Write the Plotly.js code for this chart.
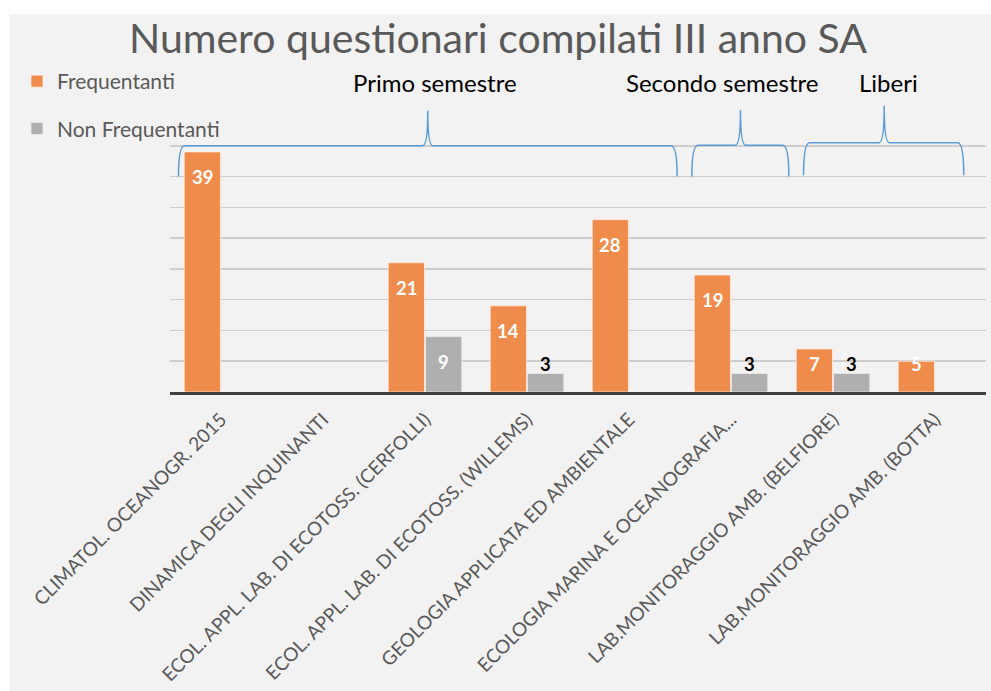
<!DOCTYPE html>
<html><head><meta charset="utf-8">
<script src="https://cdn.plot.ly/plotly-3.0.1.min.js"></script>
<style>html,body{margin:0;padding:0;background:#fff;} #chart{width:991px;height:691px;}</style>
</head><body><div id="chart"></div>
<script>
// ---- data ----
const categories = [
  "CLIMATOL. OCEANOGR. 2015",
  "DINAMICA DEGLI INQUINANTI",
  "ECOL. APPL. LAB. DI ECOTOSS. (CERFOLLI)",
  "ECOL. APPL. LAB. DI ECOTOSS. (WILLEMS)",
  "GEOLOGIA APPLICATA ED AMBIENTALE",
  "ECOLOGIA MARINA E OCEANOGRAFIA...",
  "LAB.MONITORAGGIO AMB. (BELFIORE)",
  "LAB.MONITORAGGIO AMB. (BOTTA)"
];
const frequentanti    = [39, null, 21, 14, 28, 19, 7, 5];
const nonFrequentanti = [null, null, 9, 3, null, 3, 3, null];
const seriesNames = ["Frequentanti", "Non Frequentanti"];
const groupLabels = ["Primo semestre", "Secondo semestre", "Liberi"];
const chartTitle = "Numero questionari compilati III anno SA";

// ---- layout constants ----
const yMax = 45;
const FONT = "Lato, 'Open Sans', sans-serif";
const ORANGE = "#ef8c4b", GREY = "#afafaf", BLUE = "#5b9bd5";
// brace geometry in category-index units / value units
const braces = [
  {c0: -0.417, c1: 4.472, cm: 2.027, tip: 35.0, h: 40.0, peak: 45.7, lx: 2.098},
  {c0: 4.616,  c1: 5.567, cm: 5.093, tip: 35.0, h: 40.1, peak: 45.8, lx: 4.907},
  {c0: 5.711,  c1: 7.282, cm: 6.502, tip: 35.2, h: 40.5, peak: 46.5, lx: 6.544}
];
const braceLabelValue = 50.3;

const N = categories.length;
const PX = c => (c + 0.5) / N;
const PY = v => v / yMax;
function bracePath(b) {
  const r = 0.06, r2 = 0.05;
  return `M${PX(b.c0)},${PY(b.tip)} Q${PX(b.c0)},${PY(b.h)} ${PX(b.c0 + r)},${PY(b.h)} ` +
         `L${PX(b.cm - r2)},${PY(b.h)} Q${PX(b.cm)},${PY(b.h)} ${PX(b.cm)},${PY(b.peak)} ` +
         `Q${PX(b.cm)},${PY(b.h)} ${PX(b.cm + r2)},${PY(b.h)} ` +
         `L${PX(b.c1 - r)},${PY(b.h)} Q${PX(b.c1)},${PY(b.h)} ${PX(b.c1)},${PY(b.tip)}`;
}

const traces = [
  {type: "bar", name: seriesNames[0], x: categories, y: frequentanti, legendgroup: "a",
   marker: {color: ORANGE, line: {color: "rgba(255,235,220,0.8)", width: 1}}, hoverinfo: "x+y"},
  {type: "bar", name: seriesNames[1], x: categories, y: nonFrequentanti, legendgroup: "b",
   marker: {color: GREY, line: {color: "rgba(235,235,235,0.8)", width: 1}}, hoverinfo: "x+y"}
];

const bargap = 0.268, bargroupgap = 0.03;
const plotW = 816;
const slot = plotW / N * (1 - bargap) / 2;

const annotations = [];
function labelY(v) { return Math.max(v - 4.05, 4.6); }
[frequentanti, nonFrequentanti].forEach((arr, si) => {
  arr.forEach((v, i) => {
    if (v === null) return;
    const ly = labelY(v);
    annotations.push({
      x: i, y: ly, xref: "x", yref: "y", text: String(v), showarrow: false,
      xshift: (si === 0 ? -1 : 1) * slot / 2, yanchor: "middle",
      font: {family: FONT, size: 18.5, weight: 700, color: ly < v ? "#ffffff" : "#000000"}
    });
  });
});
braces.forEach((b, k) => {
  annotations.push({x: PX(b.lx), y: PY(braceLabelValue), xref: "paper", yref: "paper",
    text: groupLabels[k], showarrow: false, xanchor: "center", yanchor: "middle",
    font: {family: FONT, size: 24, color: "#000000"}});
});

const shapes = [
  {type: "rect", xref: "paper", yref: "paper", x0: -0.197, x1: 1.02, y0: -1.1, y1: 1.3646,
   fillcolor: "#f2f2f2", line: {width: 0}, layer: "below"}
].concat(braces.map(b => ({type: "path", xref: "paper", yref: "paper", path: bracePath(b),
   line: {color: BLUE, width: 1.5}, layer: "above"})));

const layout = {
  width: 991, height: 691,
  margin: {l: 170, r: 5, t: 115, b: 299, autoexpand: false},
  paper_bgcolor: "#ffffff", plot_bgcolor: "rgba(0,0,0,0)",
  title: {text: chartTitle, xref: "container", yref: "container", x: 0.5025, xanchor: "center",
          y: 1 - 39 / 691, yanchor: "middle", font: {family: FONT, size: 41, color: "#595959"}},
  barmode: "group", bargap: bargap, bargroupgap: bargroupgap,
  xaxis: {type: "category", showline: true, linecolor: "#404040", linewidth: 3, ticks: "",
          tickangle: -45, automargin: false, showgrid: false, ticklabelstandoff: 6,
          tickfont: {family: FONT, size: 19, color: "#595959"}},
  yaxis: {range: [0, yMax], dtick: 5, showticklabels: false, showgrid: true, gridcolor: "#cdcdcd",
          gridwidth: 1.5, zeroline: false, ticks: "", automargin: false, fixedrange: true},
  showlegend: true,
  legend: {xref: "container", yref: "container", x: 17 / 991, xanchor: "left", y: 1 - 61 / 691, yanchor: "top",
           orientation: "v", traceorder: "grouped", tracegroupgap: 17, bgcolor: "rgba(0,0,0,0)",
           font: {family: FONT, size: 21, color: "#595959"}},
  shapes: shapes,
  annotations: annotations
};

Plotly.newPlot("chart", traces, layout, {displayModeBar: false, staticPlot: true});
</script></body></html>
